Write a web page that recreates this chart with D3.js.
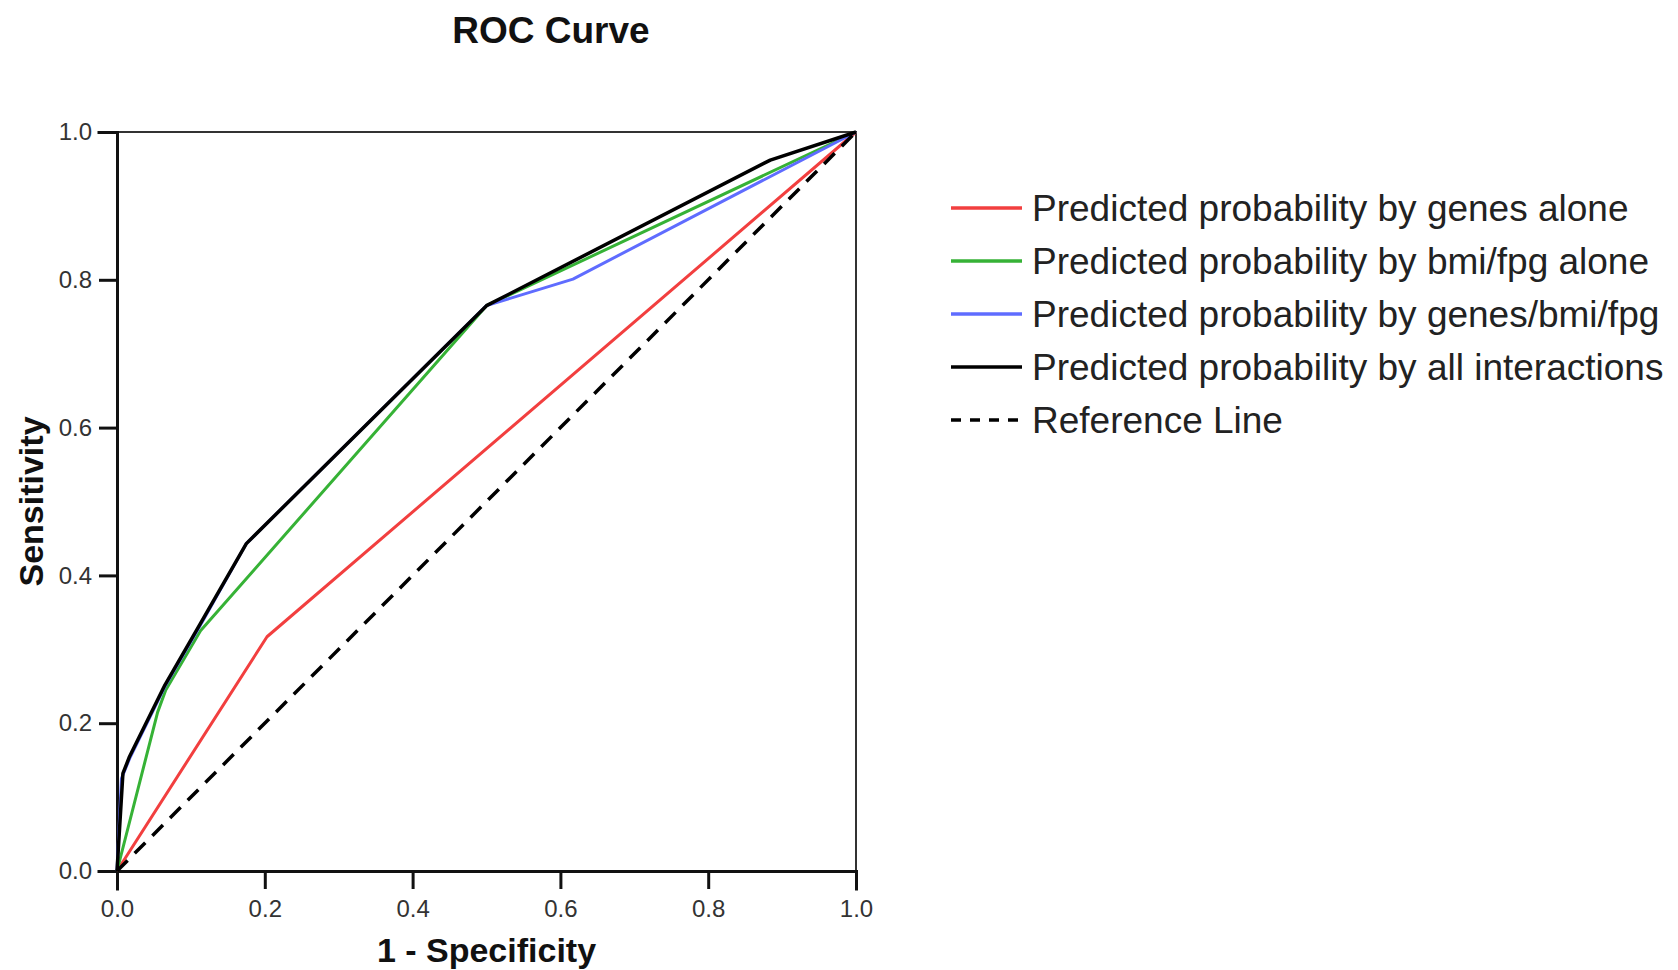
<!DOCTYPE html>
<html>
<head>
<meta charset="utf-8">
<script src="https://cdn.jsdelivr.net/npm/d3@7"></script>
<style>
  body { margin: 0; background: #fff; }
  text { font-family: "Liberation Sans", Arial, sans-serif; }
  .axis path, .axis line { stroke: #111; stroke-width: 3; }
  .axis text { font-size: 24px; fill: #333; }
  .title { font-weight: bold; fill: #111; }
</style>
</head>
<body>
<div id="chart"></div>
<script>
// --- 1. DATOS ---
const seriesNames = [
  "Predicted probability by genes alone",
  "Predicted probability by bmi/fpg alone",
  "Predicted probability by genes/bmi/fpg",
  "Predicted probability by all interactions"
];
const seriesColors = ["#f23f3f", "#36b236", "#5f6cff", "#000000"];

// puntos (1 - especificidad, sensibilidad)
const genesX = [0, 0.203, 1];
const genesY = [0, 0.317, 1];

const bmiX = [0, 0.055, 0.066, 0.113, 0.5, 1];
const bmiY = [0, 0.215, 0.245, 0.325, 0.765, 1];

const genesBmiX = [0, 0.006, 0.017, 0.065, 0.113, 0.175, 0.5, 0.617, 1];
const genesBmiY = [0, 0.125, 0.152, 0.25, 0.333, 0.443, 0.765, 0.801, 1];

const allX = [0, 0.008, 0.017, 0.065, 0.113, 0.175, 0.5, 0.884, 1];
const allY = [0, 0.132, 0.155, 0.252, 0.335, 0.443, 0.765, 0.962, 1];

const refX = [0, 1];
const refY = [0, 1];

const tickValues = [0, 0.2, 0.4, 0.6, 0.8, 1.0];

// --- 2. CONFIGURACIÓN INICIAL ---
const W = 1678, H = 970;
const margin = {top: 132, left: 117};
const size = 739;

const svg = d3.select("#chart")
  .append("svg")
    .attr("width", W)
    .attr("height", H);

const x = d3.scaleLinear().domain([0, 1]).range([margin.left, margin.left + size]);
const y = d3.scaleLinear().domain([0, 1]).range([margin.top + size, margin.top]);

// --- 3. MARCO Y EJES ---
svg.append("rect")
  .attr("x", x(0)).attr("y", y(1))
  .attr("width", x(1) - x(0)).attr("height", y(0) - y(1))
  .attr("fill", "none")
  .attr("stroke", "#333")
  .attr("stroke-width", 2);

svg.append("g")
  .attr("class", "axis")
  .attr("transform", `translate(0,${y(0)})`)
  .call(d3.axisBottom(x).tickValues(tickValues).tickFormat(d3.format(".1f")).tickSize(18).tickPadding(11));

svg.append("g")
  .attr("class", "axis")
  .attr("transform", `translate(${x(0)},0)`)
  .call(d3.axisLeft(y).tickValues(tickValues).tickFormat(d3.format(".1f")).tickSize(18).tickPadding(7));

svg.selectAll(".axis .domain").attr("stroke-linecap", "square");

// --- 4. CURVAS ---
const line = d3.line().x(d => x(d[0])).y(d => y(d[1]));
const curves = [
  {xs: genesX, ys: genesY, color: seriesColors[0], w: 3},
  {xs: bmiX, ys: bmiY, color: seriesColors[1], w: 3},
  {xs: genesBmiX, ys: genesBmiY, color: seriesColors[2], w: 3},
  {xs: allX, ys: allY, color: seriesColors[3], w: 3.5}
];

curves.forEach(c => {
  svg.append("path")
    .datum(c.xs.map((v, i) => [v, c.ys[i]]))
    .attr("d", line)
    .attr("fill", "none")
    .attr("stroke", c.color)
    .attr("stroke-width", c.w)
    .attr("stroke-linejoin", "round");
});

// línea de referencia
svg.append("path")
  .datum(refX.map((v, i) => [v, refY[i]]))
  .attr("d", line)
  .attr("fill", "none")
  .attr("stroke", "#000")
  .attr("stroke-width", 3.5)
  .attr("stroke-dasharray", "15,10");

// --- 5. TÍTULOS ---
svg.append("text")
  .attr("class", "title")
  .attr("x", 551).attr("y", 43)
  .attr("text-anchor", "middle")
  .style("font-size", "37px")
  .text("ROC Curve");

svg.append("text")
  .attr("class", "title")
  .attr("x", (x(0) + x(1)) / 2).attr("y", 962)
  .attr("text-anchor", "middle")
  .style("font-size", "34px")
  .text("1 - Specificity");

svg.append("text")
  .attr("class", "title")
  .attr("transform", `translate(43,${(y(0) + y(1)) / 2}) rotate(-90)`)
  .attr("text-anchor", "middle")
  .style("font-size", "34px")
  .text("Sensitivity");

// --- 6. LEYENDA ---
const legendItems = seriesNames.map((n, i) => ({name: n, color: seriesColors[i], dash: null}))
  .concat([{name: "Reference Line", color: "#000", dash: "10,9"}]);

const legend = svg.append("g").attr("transform", "translate(951,208)");
legendItems.forEach((d, i) => {
  const g = legend.append("g").attr("transform", `translate(0,${i * 53})`);
  g.append("line")
    .attr("x1", 0).attr("x2", 71)
    .attr("stroke", d.color)
    .attr("stroke-width", 3.5)
    .attr("stroke-dasharray", d.dash);
  g.append("text")
    .attr("x", 81).attr("y", 13)
    .style("font-size", "37px")
    .style("fill", "#222")
    .text(d.name);
});
</script>
</body>
</html>
